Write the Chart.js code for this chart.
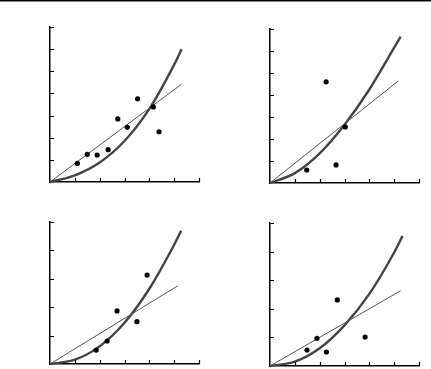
<!DOCTYPE html>
<html>
<head>
<meta charset="utf-8">
<script src="https://cdn.jsdelivr.net/npm/chart.js@4/dist/chart.umd.min.js"></script>
<style>
html, body { margin: 0; padding: 0; background: #fff; overflow: hidden; }
body { width: 431px; height: 369px; position: relative; }
#topRule { position: absolute; left: 0; top: 0; width: 431px; height: 1px; background: #000; border-bottom: 1px solid #888; }
canvas { position: absolute; }
</style>
</head>
<body>
<div id="topRule"></div>
<canvas id="tl" width="157" height="163" style="left:46px;top:23px"></canvas>
<canvas id="tr" width="157" height="162" style="left:266px;top:25px"></canvas>
<canvas id="bl" width="157" height="150" style="left:46px;top:218px"></canvas>
<canvas id="br" width="157" height="151" style="left:266px;top:219px"></canvas>
<script>
// top left panel
let tlDotsX = [1.10, 1.50, 1.90, 2.34, 2.73, 3.11, 3.53, 4.16, 4.39];
let tlDotsY = [0.84, 1.25, 1.22, 1.46, 2.85, 2.47, 3.76, 3.39, 2.27];
let tlLineX = [0, 5.30];
let tlLineY = [0, 4.42];
let tlCurveX = [0, 1, 2, 3, 4, 5, 5.30];
let tlCurveY = [0, 0.30, 0.88, 1.85, 3.30, 5.30, 6.00];

// top right panel
let trDotsX = [1.48, 2.26, 2.66, 3.03];
let trDotsY = [0.59, 4.60, 0.82, 2.55];
let trLineX = [0, 5.17];
let trLineY = [0, 4.64];
let trCurveX = [0, 1, 2, 3, 4, 5, 5.26];
let trCurveY = [0, 0.45, 1.35, 2.65, 4.25, 6.15, 6.65];

// bottom left panel
let blDotsX = [1.86, 2.30, 2.70, 3.50, 3.91];
let blDotsY = [0.49, 0.81, 1.87, 1.49, 3.13];
let blLineX = [0, 5.14];
let blLineY = [0, 2.75];
let blCurveX = [0, 1, 2, 3, 4, 5, 5.28];
let blCurveY = [0, 0.15, 0.62, 1.45, 2.65, 4.20, 4.69];

// bottom right panel
let brDotsX = [1.49, 1.89, 2.27, 2.71, 3.83];
let brDotsY = [0.56, 0.97, 0.49, 2.31, 1.01];
let brLineX = [0, 5.26];
let brLineY = [0, 2.63];
let brCurveX = [0, 1, 2, 3, 4, 5, 5.34];
let brCurveY = [0, 0.15, 0.62, 1.42, 2.52, 3.97, 4.55];

function pairs(xs, ys){
	let out = [];
	for(let i = 0; i < xs.length; i++)out[out.length] = {x: xs[i], y: ys[i]};
	return out;
}

// ticks point into the plot, so draw them ourselves
const innerTicks = {
	id: "innerTicks",
	afterDraw(chart){
		let ctx = chart.ctx;
		let xs = chart.scales.x, ys = chart.scales.y;
		let area = chart.chartArea;
		ctx.save();
		ctx.strokeStyle = "#000";
		ctx.lineWidth = 1.2;
		ctx.beginPath();
		xs.ticks.forEach(t => {
			if(t.value == 0)return;
			let px = Math.round(xs.getPixelForValue(t.value)) + 0.5;
			ctx.moveTo(px, area.bottom);
			ctx.lineTo(px, area.bottom - 4);
		});
		ys.ticks.forEach(t => {
			if(t.value == 0)return;
			let py = Math.round(ys.getPixelForValue(t.value)) + 0.5;
			ctx.moveTo(area.left, py);
			ctx.lineTo(area.left + 4, py);
		});
		ctx.stroke();
		ctx.restore();
	}
};

function makeChart(id, dx, dy, lx, ly, cx, cy, yMax){
	let ctx = document.getElementById(id).getContext("2d");
	return new Chart(ctx, {
		type: "scatter",
		data: {
			datasets: [
				{
					data: pairs(dx, dy),
					backgroundColor: "#000",
					borderColor: "#000",
					pointRadius: 2.6,
					pointBorderWidth: 0
				},
				{
					data: pairs(lx, ly),
					showLine: true,
					borderColor: "#555",
					borderWidth: 1,
					pointRadius: 0
				},
				{
					data: pairs(cx, cy),
					showLine: true,
					borderColor: "#444",
					borderWidth: 2.4,
					pointRadius: 0,
					cubicInterpolationMode: "monotone"
				}
			]
		},
		options: {
			responsive: false,
			animation: false,
			clip: false,
			layout: {padding: 4, autoPadding: false},
			plugins: {legend: {display: false}, tooltip: {enabled: false}},
			scales: {
				x: {
					type: "linear", min: 0, max: 6,
					ticks: {display: false, stepSize: 1},
					grid: {display: false, drawTicks: false},
					border: {display: true, color: "#000", width: 1.5}
				},
				y: {
					type: "linear", min: 0, max: yMax,
					ticks: {display: false, stepSize: 1},
					grid: {display: false, drawTicks: false},
					border: {display: true, color: "#000", width: 1.5}
				}
			}
		},
		plugins: [innerTicks]
	});
}

makeChart("tl", tlDotsX, tlDotsY, tlLineX, tlLineY, tlCurveX, tlCurveY, 7);
makeChart("tr", trDotsX, trDotsY, trLineX, trLineY, trCurveX, trCurveY, 7);
makeChart("bl", blDotsX, blDotsY, blLineX, blLineY, blCurveX, blCurveY, 5);
makeChart("br", brDotsX, brDotsY, brLineX, brLineY, brCurveX, brCurveY, 5);
</script>
</body>
</html>
